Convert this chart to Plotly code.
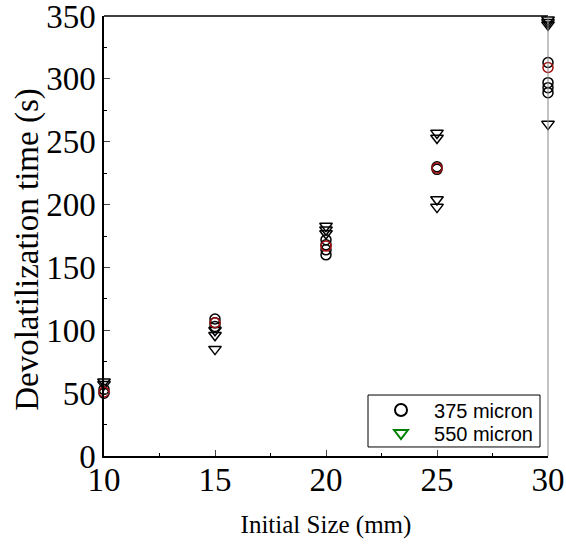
import plotly.graph_objects as go

# Data
circ_x = [10, 10, 15, 15, 15, 20, 20, 20, 20, 25, 25, 30, 30, 30, 30]
circ_y = [53, 50, 109, 106, 103, 172, 168, 164, 160, 230, 228, 313, 297, 293, 289]
tri_x = [10, 10, 15, 15, 15, 20, 20, 20, 25, 25, 25, 25, 30, 30, 30, 30]
tri_y = [59, 57, 100, 96, 85, 183, 180, 177, 257, 253, 204, 198, 347, 345, 343, 264]
mean_x = [10, 15, 20, 25, 30]
mean_circ_y = [51, 106, 167, 229, 309]
series_names = ["375 micron", "550 micron"]

serif = "Liberation Serif"
fig = go.Figure()

fig.add_trace(go.Scatter(x=tri_x, y=tri_y, mode="markers", showlegend=False,
                         marker=dict(symbol="triangle-down-open", size=11, color="black", line=dict(width=1.5)),
                         cliponaxis=False))
fig.add_trace(go.Scatter(x=circ_x, y=circ_y, mode="markers", showlegend=False,
                         marker=dict(symbol="circle-open", size=10, color="black", line=dict(width=1.5)),
                         cliponaxis=False))
fig.add_trace(go.Scatter(x=mean_x, y=mean_circ_y, mode="markers", showlegend=False,
                         marker=dict(symbol="circle-open", size=10, color="#a01010", line=dict(width=1.5)),
                         cliponaxis=False))

# legend frame
fig.add_shape(type="rect", xref="paper", yref="paper", x0=0.5946, x1=0.982, y0=0.0205, y1=0.1386,
              line=dict(color="black", width=1), fillcolor="white", layer="above")

# legend entries (two single-item legends inside one frame)
fig.add_trace(go.Scatter(x=[None], y=[None], mode="markers", name=series_names[0], legend="legend",
                         marker=dict(symbol="circle-open", size=10, color="black", line=dict(width=1.5))))
fig.add_trace(go.Scatter(x=[None], y=[None], mode="markers", name=series_names[1], legend="legend2",
                         marker=dict(symbol="triangle-down-open", size=10, color="green", line=dict(width=1.5))))

fig.add_shape(type="line", xref="paper", yref="paper", x0=1, x1=1, y0=0, y1=1,
              line=dict(color="#888888", width=1))
fig.add_shape(type="line", xref="paper", yref="paper", x0=0, x1=1, y0=1, y1=1,
              line=dict(color="black", width=1.5))

# y-axis title as annotation for exact placement
fig.add_annotation(text="Devolatilization time (s)", xref="paper", yref="paper",
                   x=-0.172, y=0.47, textangle=-90, showarrow=False,
                   xanchor="center", yanchor="middle",
                   font=dict(family=serif, size=33, color="black"))

leg_common = dict(xanchor="left", yanchor="middle", borderwidth=0, bgcolor="rgba(0,0,0,0)",
                  font=dict(family="Liberation Sans", size=20, color="black"),
                  itemwidth=56, itemsizing="constant")

fig.update_layout(
    width=566, height=546,
    margin=dict(l=104, r=18, t=16, b=90),
    plot_bgcolor="white", paper_bgcolor="white",
    font=dict(family=serif, size=22, color="black"),
    xaxis=dict(range=[10, 30], tickvals=[10, 15, 20, 25, 30], ticks="inside", ticklen=6,
               showgrid=False, zeroline=False, showline=True, linecolor="black", linewidth=1.5,
               automargin=False, ticklabeloverflow="allow", ticklabelstandoff=-6,
               minor=dict(tickvals=[12.5, 17.5, 22.5, 27.5], ticks="inside", ticklen=3, tickcolor="black"),
               title=dict(text="Initial Size (mm)", font=dict(family=serif, size=25), standoff=18),
               tickfont=dict(family=serif, size=33)),
    yaxis=dict(range=[0, 350], tickvals=[0, 50, 100, 150, 200, 250, 300, 350], ticks="inside", ticklen=6,
               showgrid=False, zeroline=False, showline=True, linecolor="black", linewidth=1.5,
               automargin=False, ticklabeloverflow="allow",
               minor=dict(tickvals=[25, 75, 125, 175, 225, 275, 325], ticks="inside", ticklen=3, tickcolor="black"),
               tickfont=dict(family=serif, size=33)),
    legend=dict(x=0.5946, y=0.1045, **leg_common),
    legend2=dict(x=0.5946, y=0.0523, **leg_common),
)

fig.write_html("out.html")
